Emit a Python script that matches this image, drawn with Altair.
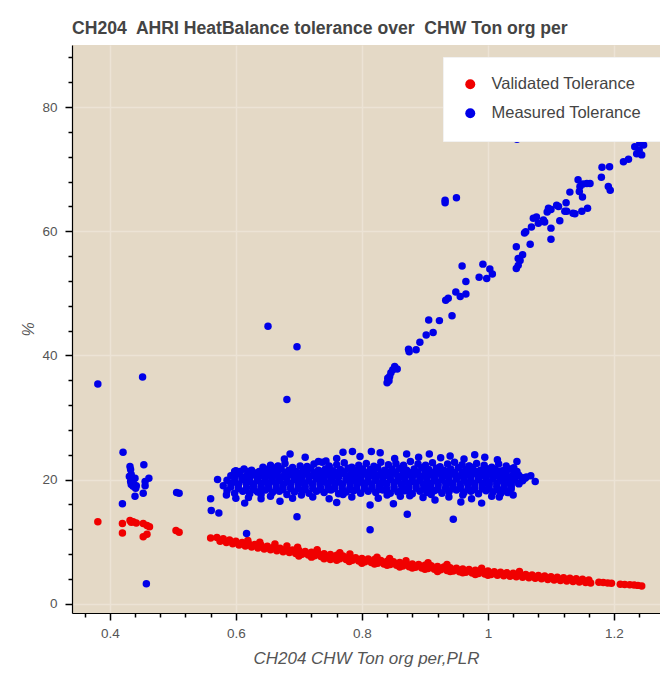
import altair as alt
import pandas as pd

# ---------------- data ----------------
red_left = [(0.381, 13.2), (0.420, 12.9), (0.420, 11.4), (0.432, 13.4), (0.437, 13.2),
            (0.442, 13.0), (0.434, 13.1), (0.453, 12.9), (0.459, 12.6), (0.463, 12.4),
            (0.453, 10.8), (0.459, 11.2), (0.505, 11.8), (0.510, 11.5), (0.560, 10.6)]

red_band_upper = [(0.570, 10.65), (0.580, 10.45), (0.590, 10.25), (0.600, 10.05), (0.610, 9.87),
                  (0.620, 9.7), (0.630, 9.55), (0.640, 9.4), (0.650, 9.25), (0.660, 9.1),
                  (0.670, 8.95), (0.680, 8.8), (0.690, 8.67), (0.700, 8.55), (0.710, 8.42),
                  (0.720, 8.3), (0.730, 8.17), (0.740, 8.05), (0.750, 7.92), (0.760, 7.8),
                  (0.770, 7.67), (0.780, 7.55), (0.790, 7.42), (0.800, 7.3), (0.810, 7.2),
                  (0.820, 7.1), (0.830, 6.97), (0.840, 6.85), (0.850, 6.75), (0.860, 6.65),
                  (0.870, 6.52), (0.880, 6.4), (0.890, 6.3), (0.900, 6.2), (0.910, 6.1),
                  (0.920, 6.0), (0.930, 5.9), (0.940, 5.8), (0.950, 5.7), (0.960, 5.6),
                  (0.970, 5.5), (0.980, 5.4), (0.990, 5.32), (1.000, 5.25), (1.010, 5.15),
                  (1.020, 5.05), (1.030, 4.97), (1.040, 4.9), (1.050, 4.8), (1.060, 4.7),
                  (1.070, 4.62), (1.080, 4.55), (1.090, 4.45), (1.100, 4.35), (1.110, 4.25),
                  (1.120, 4.18), (1.130, 4.1), (1.140, 4.02), (1.150, 3.92), (1.160, 3.82)]

red_band_lower = [(0.575, 10.05), (0.585, 9.85), (0.595, 9.65), (0.605, 9.46), (0.615, 9.29),
                  (0.625, 9.12), (0.635, 8.97), (0.645, 8.82), (0.655, 8.67), (0.665, 8.52),
                  (0.675, 8.37), (0.685, 8.23), (0.695, 8.1), (0.705, 7.98), (0.715, 7.86),
                  (0.725, 7.73), (0.735, 7.6), (0.745, 7.48), (0.755, 7.36), (0.765, 7.23),
                  (0.775, 7.1), (0.785, 6.98), (0.795, 6.86), (0.805, 6.75), (0.815, 6.65),
                  (0.825, 6.53), (0.835, 6.41), (0.845, 6.3), (0.855, 6.2), (0.865, 6.08),
                  (0.875, 5.96), (0.885, 5.85), (0.895, 5.75), (0.905, 5.65), (0.915, 5.55),
                  (0.925, 5.45), (0.935, 5.35), (0.945, 5.25), (0.955, 5.15), (0.965, 5.05),
                  (0.975, 4.95), (0.985, 4.86), (0.995, 4.78), (1.005, 4.7), (1.015, 4.6),
                  (1.025, 4.51), (1.035, 4.43), (1.045, 4.35), (1.055, 4.25), (1.065, 4.16),
                  (1.075, 4.08), (1.085, 4.0), (1.095, 3.9), (1.105, 3.81), (1.115, 3.73),
                  (1.125, 3.66), (1.135, 3.58), (1.145, 3.5), (1.155, 3.4), (1.163, 3.35)]

red_band_extra = [(0.619, 10.2), (0.638, 9.9), (0.662, 9.6), (0.681, 9.3), (0.698, 9.1),
                  (0.729, 8.7), (0.765, 8.2), (0.781, 8.0), (0.824, 7.5), (0.844, 7.3),
                  (0.870, 6.9), (0.905, 6.6), (0.935, 6.3), (0.990, 5.7), (1.050, 5.2),
                  (0.700, 7.7), (0.750, 7.1), (0.800, 6.5), (0.860, 5.9), (0.920, 5.2),
                  (0.980, 4.7), (0.720, 7.5), (0.740, 7.25), (0.760, 7.0), (0.780, 6.8),
                  (0.820, 6.4), (0.840, 6.2), (0.880, 5.75), (0.900, 5.55), (0.940, 5.2),
                  (0.960, 5.0), (1.000, 4.6)]

red_tail = [(1.176, 3.45), (1.183, 3.4), (1.190, 3.32), (1.196, 3.28), (1.210, 3.15),
            (1.217, 3.1), (1.225, 3.05), (1.232, 3.0), (1.238, 2.95), (1.244, 2.85)]

blue_left = [(0.381, 35.4), (0.452, 36.5), (0.421, 24.4), (0.432, 22.1), (0.433, 21.6),
             (0.434, 20.8), (0.431, 20.5), (0.436, 20.0), (0.433, 19.7), (0.438, 19.3),
             (0.442, 19.0), (0.437, 18.9), (0.441, 18.6), (0.440, 20.2), (0.434, 19.2),
             (0.440, 17.3), (0.454, 22.4), (0.462, 20.2), (0.456, 19.7), (0.456, 19.0),
             (0.453, 17.8), (0.420, 16.1), (0.506, 17.9), (0.510, 17.8), (0.458, 3.2)]

blue_cloud = [
    (0.586, 18.2), (0.598, 17.8), (0.611, 18.1), (0.622, 17.7), (0.634, 18.0), (0.647, 18.3),
    (0.658, 17.9), (0.669, 18.1), (0.681, 17.6), (0.693, 18.0), (0.705, 18.2), (0.716, 17.8),
    (0.728, 18.1), (0.740, 17.9), (0.751, 18.3), (0.763, 17.7), (0.775, 18.0), (0.787, 18.2),
    (0.798, 17.8), (0.810, 18.1), (0.822, 17.9), (0.833, 18.3), (0.845, 17.8), (0.857, 18.0),
    (0.868, 18.2), (0.880, 17.7), (0.892, 18.1), (0.903, 17.9), (0.915, 18.2), (0.927, 17.8),
    (0.938, 18.0), (0.950, 18.3), (0.962, 17.9), (0.973, 18.1), (0.985, 17.7), (0.997, 18.2),
    (1.008, 18.0), (1.020, 18.3), (1.031, 17.9),
    (0.580, 19.0), (0.592, 18.8), (0.604, 19.1), (0.617, 18.7), (0.628, 19.0), (0.640, 18.9),
    (0.652, 19.2), (0.664, 18.8), (0.675, 19.0), (0.687, 18.7), (0.699, 19.1), (0.710, 18.9),
    (0.722, 19.2), (0.734, 18.8), (0.746, 19.0), (0.757, 18.9), (0.769, 19.2), (0.781, 18.7),
    (0.792, 19.0), (0.804, 19.1), (0.816, 18.8), (0.828, 19.0), (0.839, 19.2), (0.851, 18.9),
    (0.863, 19.1), (0.874, 18.8), (0.886, 19.0), (0.898, 19.2), (0.909, 18.9), (0.921, 19.0),
    (0.933, 18.7), (0.944, 19.1), (0.956, 18.9), (0.968, 19.2), (0.979, 18.8), (0.991, 19.0),
    (1.002, 19.1), (1.014, 18.9), (1.026, 19.2), (1.037, 19.0), (1.049, 19.3),
    (0.586, 19.9), (0.598, 19.6), (0.610, 20.0), (0.622, 19.7), (0.634, 19.9), (0.646, 19.6),
    (0.657, 20.1), (0.669, 19.8), (0.681, 19.6), (0.693, 20.0), (0.704, 19.7), (0.716, 19.9),
    (0.728, 20.1), (0.740, 19.7), (0.751, 19.9), (0.763, 19.6), (0.775, 20.0), (0.786, 19.8),
    (0.798, 20.1), (0.810, 19.7), (0.822, 19.9), (0.833, 19.6), (0.845, 20.0), (0.857, 19.8),
    (0.868, 20.1), (0.880, 19.7), (0.892, 19.9), (0.903, 20.2), (0.915, 19.8), (0.927, 20.0),
    (0.938, 19.7), (0.950, 20.1), (0.962, 19.9), (0.973, 19.7), (0.985, 20.0), (0.997, 19.8),
    (1.008, 20.1), (1.020, 19.9), (1.031, 19.7), (1.043, 20.0), (1.055, 19.8),
    (0.592, 20.6), (0.604, 20.9), (0.616, 20.5), (0.628, 20.8), (0.640, 20.6), (0.652, 20.9),
    (0.663, 20.7), (0.675, 20.5), (0.687, 20.8), (0.699, 20.6), (0.710, 20.9), (0.722, 20.7),
    (0.734, 20.5), (0.746, 20.8), (0.757, 20.6), (0.769, 21.0), (0.781, 20.7), (0.793, 20.5),
    (0.804, 20.9), (0.816, 20.6), (0.828, 20.8), (0.839, 20.7), (0.851, 21.0), (0.863, 20.6),
    (0.874, 20.8), (0.886, 20.9), (0.898, 20.6), (0.909, 20.8), (0.921, 21.0), (0.933, 20.7),
    (0.944, 20.9), (0.956, 20.6), (0.968, 20.8), (0.979, 21.0), (0.991, 20.7), (1.002, 20.9),
    (1.014, 20.6), (1.026, 20.8), (1.037, 20.5), (1.049, 20.7), (1.061, 20.4),
    (0.600, 21.4), (0.613, 21.7), (0.625, 21.5), (0.637, 21.3), (0.649, 21.6), (0.660, 21.4),
    (0.672, 21.7), (0.684, 21.5), (0.695, 21.3), (0.707, 21.6), (0.719, 21.8), (0.731, 21.5),
    (0.742, 21.7), (0.754, 21.4), (0.766, 21.6), (0.778, 21.8), (0.789, 21.5), (0.801, 21.7),
    (0.813, 21.6), (0.825, 21.9), (0.836, 21.5), (0.848, 21.7), (0.860, 21.8), (0.871, 21.5),
    (0.883, 21.7), (0.895, 21.9), (0.906, 21.6), (0.918, 21.8), (0.930, 21.5), (0.941, 21.7),
    (0.953, 21.9), (0.965, 21.6), (0.976, 21.8), (0.988, 21.5), (1.000, 21.7), (1.011, 21.6),
    (1.023, 21.4), (1.035, 21.7), (1.046, 21.3),
    (0.655, 22.3), (0.678, 22.6), (0.702, 22.2), (0.724, 22.5), (0.737, 22.8), (0.760, 22.4),
    (0.772, 22.7), (0.795, 22.3), (0.807, 22.6), (0.830, 22.8), (0.842, 22.4), (0.854, 22.6),
    (0.877, 22.9), (0.889, 22.5), (0.901, 22.3), (0.912, 22.7), (0.936, 22.5), (0.947, 22.8),
    (0.959, 22.4), (0.982, 22.6), (0.994, 22.3), (1.017, 22.5), (1.029, 22.2),
    (0.620, 17.1), (0.655, 17.3), (0.690, 17.0), (0.722, 17.2), (0.748, 16.9), (0.784, 17.2),
    (0.826, 17.0), (0.861, 17.3), (0.897, 17.1), (0.938, 17.2), (0.974, 16.9), (1.006, 17.3),
    (1.040, 17.5),
]

blue_cloud_fill = [
    (0.604, 18.5), (0.616, 18.35), (0.628, 18.4), (0.640, 18.55), (0.652, 18.6), (0.664, 18.4),
    (0.675, 18.4), (0.687, 18.5), (0.699, 18.5), (0.710, 18.45), (0.722, 18.6), (0.734, 18.4),
    (0.746, 18.4), (0.757, 18.55), (0.769, 18.5), (0.781, 18.4), (0.792, 18.4), (0.804, 18.5),
    (0.816, 18.6), (0.828, 18.45), (0.839, 18.5), (0.851, 18.5), (0.863, 18.4), (0.874, 18.4),
    (0.886, 18.6), (0.898, 18.55), (0.909, 18.4), (0.921, 18.4), (0.933, 18.5), (0.944, 18.5),
    (0.956, 18.6), (0.968, 18.45), (0.979, 18.4), (0.991, 18.5), (1.002, 18.5), (1.014, 18.4),
    (1.026, 18.6), (1.037, 18.5),
    (0.592, 19.4), (0.604, 19.3), (0.616, 19.45), (0.628, 19.3), (0.640, 19.4), (0.652, 19.35),
    (0.663, 19.5), (0.675, 19.3), (0.687, 19.4), (0.699, 19.35), (0.710, 19.45), (0.722, 19.3),
    (0.734, 19.4), (0.746, 19.35), (0.757, 19.5), (0.769, 19.3), (0.781, 19.4), (0.793, 19.35),
    (0.804, 19.45), (0.816, 19.3), (0.828, 19.4), (0.839, 19.35), (0.851, 19.5), (0.863, 19.3),
    (0.874, 19.4), (0.886, 19.45), (0.898, 19.3), (0.909, 19.4), (0.921, 19.5), (0.933, 19.35),
    (0.944, 19.4), (0.956, 19.3), (0.968, 19.45), (0.979, 19.4), (0.991, 19.35), (1.002, 19.5),
    (1.014, 19.4), (1.026, 19.3), (1.037, 19.45), (1.049, 19.4),
    (0.598, 20.3), (0.610, 20.2), (0.622, 20.35), (0.634, 20.2), (0.646, 20.3), (0.657, 20.25),
    (0.669, 20.4), (0.681, 20.2), (0.693, 20.3), (0.704, 20.25), (0.716, 20.35), (0.728, 20.2),
    (0.740, 20.3), (0.751, 20.25), (0.763, 20.4), (0.775, 20.2), (0.786, 20.3), (0.798, 20.25),
    (0.810, 20.35), (0.822, 20.2), (0.833, 20.3), (0.845, 20.25), (0.857, 20.4), (0.868, 20.2),
    (0.880, 20.3), (0.892, 20.35), (0.903, 20.2), (0.915, 20.3), (0.927, 20.4), (0.938, 20.25),
    (0.950, 20.3), (0.962, 20.2), (0.973, 20.35), (0.985, 20.3), (0.997, 20.25), (1.008, 20.4),
    (1.020, 20.3), (1.031, 20.2), (1.043, 20.35), (1.055, 20.3),
    (0.606, 21.1), (0.619, 21.2), (0.631, 21.05), (0.643, 21.2), (0.655, 21.1), (0.666, 21.25),
    (0.678, 21.1), (0.690, 21.15), (0.701, 21.05), (0.713, 21.2), (0.725, 21.1), (0.737, 21.25),
    (0.748, 21.1), (0.760, 21.15), (0.772, 21.2), (0.784, 21.05), (0.795, 21.2), (0.807, 21.1),
    (0.819, 21.25), (0.831, 21.1), (0.842, 21.2), (0.854, 21.15), (0.866, 21.3), (0.877, 21.1),
    (0.889, 21.2), (0.901, 21.25), (0.912, 21.1), (0.924, 21.2), (0.936, 21.3), (0.947, 21.15),
    (0.959, 21.2), (0.971, 21.1), (0.982, 21.25), (0.994, 21.2), (1.006, 21.15), (1.017, 21.3),
    (1.029, 21.1), (1.041, 21.0),
    (0.643, 22.0), (0.666, 22.1), (0.690, 21.95), (0.713, 22.1), (0.748, 22.05), (0.784, 22.0),
    (0.819, 22.15), (0.866, 22.1), (0.924, 22.05), (0.971, 22.15), (1.006, 22.0), (1.041, 21.9),
    (0.667, 22.2), (0.748, 22.2), (0.866, 22.3), (0.970, 22.2),
    (0.640, 17.6), (0.704, 17.5), (0.770, 17.6), (0.840, 17.5), (0.910, 17.6), (0.960, 17.5),
    (1.020, 17.7),
]

blue_fringe = [(0.677, 23.3), (0.686, 24.1), (0.731, 22.9), (0.743, 23.0), (0.770, 24.4),
               (0.785, 24.5), (0.797, 23.7), (0.815, 24.5), (0.829, 24.3), (0.852, 23.4),
               (0.871, 24.1), (0.907, 24.1), (0.925, 23.5), (0.940, 23.8), (0.962, 23.3),
               (0.979, 24.0), (0.995, 23.6), (1.015, 23.2), (1.046, 22.9), (0.710, 23.6),
               (0.760, 23.4), (0.890, 23.6), (0.598, 21.3), (0.607, 21.3), (0.620, 21.3),
               (0.571, 20.0), (0.560, 16.9), (0.561, 15.0), (0.573, 14.6), (0.614, 16.2),
               (0.670, 16.5), (0.697, 14.0), (0.617, 11.3), (0.813, 11.9), (0.813, 15.9),
               (0.872, 14.4), (0.876, 17.4), (0.916, 16.7), (0.945, 13.6), (0.957, 16.4),
               (1.018, 17.2), (1.075, 19.7), (1.059, 20.2), (1.068, 20.6), (0.760, 16.3),
               (0.850, 16.1), (0.990, 16.2), (0.640, 16.9), (0.600, 17.0), (0.585, 17.5)]

blue_diag = [(0.840, 35.6), (0.841, 36.3), (0.844, 36.6), (0.846, 37.2), (0.849, 37.7),
             (0.852, 38.2), (0.856, 37.8), (0.843, 35.9),
             (0.874, 41.0), (0.875, 40.6), (0.886, 40.9), (0.892, 42.1), (0.902, 43.3),
             (0.913, 43.7), (0.906, 45.7), (0.923, 45.6), (0.943, 46.4), (0.933, 48.9),
             (0.937, 49.2), (0.949, 50.2), (0.956, 49.5), (0.965, 49.9), (0.965, 51.9),
             (0.959, 54.4), (0.986, 52.6), (0.998, 52.4), (1.007, 53.1), (1.003, 53.9),
             (0.992, 54.7),
             (0.932, 65.0), (0.932, 64.6), (0.950, 65.4),
             (1.045, 54.0), (1.048, 54.5), (1.051, 55.3), (1.048, 55.6), (1.055, 56.2),
             (1.045, 57.5), (1.067, 57.9), (1.060, 59.9), (1.058, 59.7),
             (1.072, 62.1), (1.080, 61.3), (1.090, 61.5), (1.094, 63.1), (1.100, 63.5),
             (1.100, 60.5), (1.100, 58.7), (1.114, 61.7), (1.109, 64.2), (1.124, 64.6),
             (1.125, 63.2), (1.138, 62.8), (1.130, 66.3), (1.143, 68.3), (1.146, 67.2),
             (1.151, 67.6), (1.157, 67.7), (1.162, 67.7), (1.145, 66.4), (1.150, 65.5),
             (1.149, 63.2), (1.158, 63.7), (1.135, 62.9), (1.122, 63.2), (1.112, 64.0),
             (1.096, 63.7), (1.088, 61.8), (1.077, 62.3), (1.069, 60.7),
             (1.181, 70.3), (1.193, 70.4), (1.180, 68.7), (1.191, 67.2), (1.194, 66.6),
             (1.215, 71.2), (1.223, 71.6),
             (1.233, 73.6), (1.241, 74.2), (1.247, 73.9), (1.236, 72.5), (1.244, 72.3),
             (1.240, 73.1), (1.046, 74.8),
             (0.651, 44.7), (0.697, 41.4), (0.681, 32.9)]

series_names = ["Validated Tolerance", "Measured Tolerance"]
series_colors = ["#f00000", "#0000e8"]

x_major_ticks = [0.4, 0.6, 0.8, 1.0, 1.2]
x_minor_ticks = [0.36, 0.44, 0.48, 0.52, 0.56, 0.64, 0.68, 0.72, 0.76, 0.84, 0.88,
                 0.92, 0.96, 1.04, 1.08, 1.12, 1.16, 1.24]
y_major_ticks = [0, 20, 40, 60, 80]
y_minor_ticks = [4, 8, 12, 16, 24, 28, 32, 36, 44, 48, 52, 56, 64, 68, 72, 76, 84, 88]

# ---------------- table ----------------
rows = []
for pts in (red_left, red_band_upper, red_band_lower, red_band_extra, red_tail):
    for x, y in pts:
        rows.append({"plr": x, "tol": y, "series": series_names[0]})
for pts in (blue_left, blue_cloud, blue_cloud_fill, blue_fringe, blue_diag):
    for x, y in pts:
        rows.append({"plr": x, "tol": y, "series": series_names[1]})
df = pd.DataFrame(rows)

FONT = "Liberation Sans"
x_scale = alt.Scale(domain=[0.34, 1.273], nice=False, zero=False)
y_scale = alt.Scale(domain=[-1.5, 90], nice=False, zero=False)

x_axis = alt.Axis(
    values=x_major_ticks, format="~g", orient="bottom",
    title="CH204 CHW Ton org per,PLR",
    titleFont=FONT, titleFontSize=17, titleFontStyle="italic", titleFontWeight="normal",
    titleColor="#555555", titlePadding=11,
    labelFont=FONT, labelFontSize=13.5, labelColor="#555555", labelPadding=6,
    labelOverlap=False, labelFlush=False,
    domainColor="#000000", domainWidth=1.2,
    ticks=True, tickColor="#000000", tickWidth=1.5, tickSize=7,
    grid=True, gridColor="#ece3d5", gridWidth=1.5,
)
y_axis = alt.Axis(
    values=y_major_ticks, orient="left",
    title="%",
    titleFont=FONT, titleFontSize=16, titleFontStyle="italic", titleFontWeight="normal",
    titleColor="#555555", titlePadding=5,
    labelFont=FONT, labelFontSize=13.5, labelColor="#555555", labelPadding=8,
    labelOverlap=False, labelFlush=False,
    domainColor="#000000", domainWidth=1.2,
    ticks=True, tickColor="#000000", tickWidth=1.5, tickSize=7,
    grid=True, gridColor="#ece3d5", gridWidth=1.5,
)
x_minor_axis = alt.Axis(
    values=x_minor_ticks, orient="bottom", title=None, labels=False, domain=False,
    grid=False, ticks=True, tickColor="#000000", tickWidth=1.5, tickSize=4,
)
y_minor_axis = alt.Axis(
    values=y_minor_ticks, orient="left", title=None, labels=False, domain=False,
    grid=False, ticks=True, tickColor="#000000", tickWidth=1.5, tickSize=4,
)

base = alt.Chart(df)

minor = base.mark_circle(opacity=0).encode(
    x=alt.X("plr:Q", scale=x_scale, axis=x_minor_axis),
    y=alt.Y("tol:Q", scale=y_scale, axis=y_minor_axis),
)

points = base.mark_circle(size=56, opacity=1, clip=True).encode(
    x=alt.X("plr:Q", scale=x_scale, axis=x_axis),
    y=alt.Y("tol:Q", scale=y_scale, axis=y_axis),
    color=alt.Color(
        "series:N",
        scale=alt.Scale(domain=series_names, range=series_colors),
        legend=alt.Legend(
            title=None, orient="none", legendX=371, legendY=12,
            fillColor="#ffffff", strokeColor="#f2f2f2", padding=19,
            labelFont=FONT, labelFontSize=16.5, labelColor="#444444",
            symbolType="circle", symbolSize=100, symbolStrokeWidth=0,
            labelOffset=13, rowPadding=12, labelLimit=300,
        ),
    ),
)

chart = alt.layer(points, minor).resolve_axis(
    x="independent", y="independent"
).properties(
    width=588, height=568,
    background="#ffffff",
    title=alt.TitleParams(
        "CH204\u00a0 AHRI HeatBalance tolerance over\u00a0 CHW Ton org per",
        anchor="start", frame="group", font=FONT, fontSize=17.6, fontWeight="bold",
        color="#444444", offset=7,
    ),
    autosize=alt.AutoSizeParams(type="none"),
    padding={"left": 72, "top": 45, "right": 0, "bottom": 61},
).configure_view(
    fill="#e4d9c6", fillOpacity=1, stroke=None,
)

chart.save("out.html", embed_options={"renderer": "svg", "actions": False})
